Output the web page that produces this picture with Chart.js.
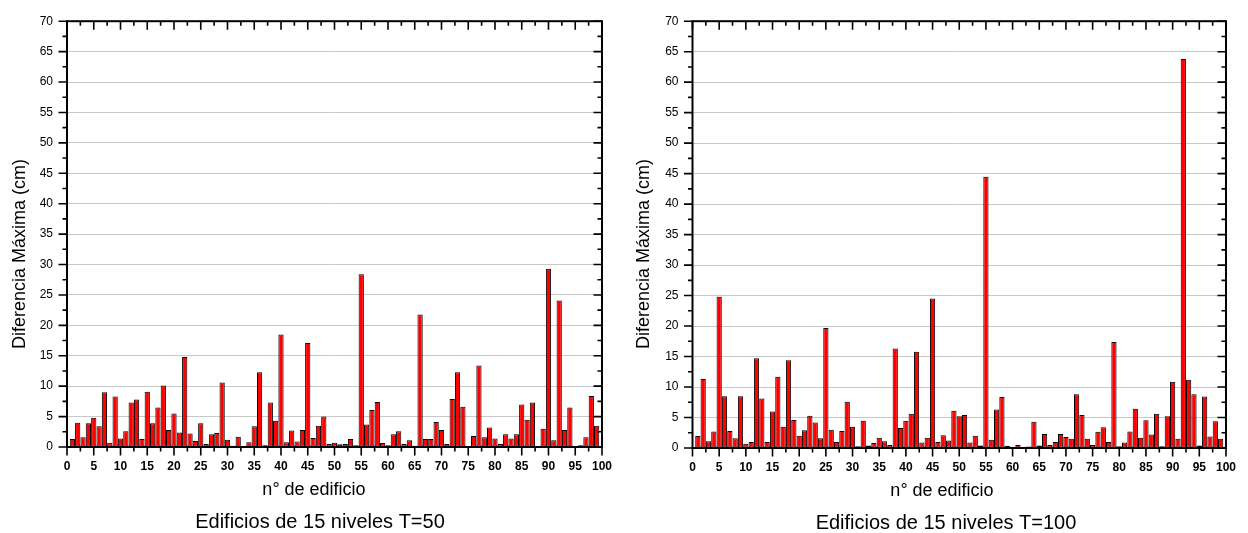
<!DOCTYPE html>
<html>
<head>
<meta charset="utf-8">
<script src="https://cdn.jsdelivr.net/npm/chart.js@4/dist/chart.umd.min.js"></script>
<style>
  html, body { margin: 0; padding: 0; background: #ffffff; }
  #wrap { position: relative; width: 1248px; height: 533px; overflow: hidden; }
  .panel { position: absolute; top: 0; width: 624px; height: 533px; }
  canvas { display: block; }
</style>
</head>
<body>
<div id="wrap">
  <div class="panel" style="left:0"><canvas id="chartT50" width="624" height="533"></canvas></div>
  <div class="panel" style="left:624px"><canvas id="chartT100" width="624" height="533"></canvas></div>
</div>
<script>
// Maximum difference (cm) per building, buildings 1..99
const diffT50 = [
  1.3, 4.0, 1.6, 3.9, 4.8, 3.4, 9.0, 0.7, 8.3, 1.4,
  2.6, 7.3, 7.8, 1.3, 9.1, 3.9, 6.5, 10.1, 2.8, 5.5,
  2.4, 14.8, 2.2, 1.0, 3.9, 0.5, 2.1, 2.3, 10.6, 1.2,
  0.2, 1.7, 0.1, 0.8, 3.4, 12.3, 0.3, 7.3, 4.3, 18.5,
  0.8, 2.7, 0.9, 2.8, 17.1, 1.5, 3.5, 5.0, 0.5, 0.7,
  0.45, 0.5, 1.3, 0.3, 28.4, 3.7, 6.1, 7.4, 0.65, 0.3,
  2.1, 2.6, 0.5, 1.1, 0.2, 21.8, 1.3, 1.3, 4.1, 2.8,
  0.5, 7.9, 12.3, 6.6, 0.0, 1.8, 13.4, 1.6, 3.2, 1.4,
  0.5, 2.1, 1.4, 2.1, 7.0, 4.5, 7.3, 0.1, 3.0, 29.3,
  1.1, 24.1, 2.8, 6.5, 0.0, 0.3, 1.6, 8.4, 3.5
];

const diffT100 = [
  1.95, 11.3, 1.1, 2.7, 24.8, 8.5, 2.8, 1.6, 8.5, 0.7,
  1.0, 14.7, 8.1, 1.0, 6.0, 11.7, 3.5, 14.4, 4.6, 2.0,
  2.9, 5.3, 4.2, 1.6, 19.7, 3.0, 1.0, 2.8, 7.6, 3.5,
  0.3, 4.45, 0.4, 0.8, 1.7, 1.1, 0.5, 16.3, 3.3, 4.45,
  5.6, 15.8, 0.9, 1.7, 24.5, 1.0, 2.1, 1.25, 6.1, 5.2,
  5.4, 0.9, 2.0, 0.4, 44.5, 1.35, 6.3, 8.35, 0.35, 0.2,
  0.5, 0.1, 0.25, 4.3, 0.4, 2.3, 0.5, 1.0, 2.3, 1.8,
  1.5, 8.8, 5.4, 1.5, 0.5, 2.65, 3.4, 1.0, 17.4, 0.3,
  0.9, 2.7, 6.45, 1.7, 4.55, 2.2, 5.6, 0.3, 5.2, 10.85,
  1.5, 63.8, 11.2, 8.8, 0.4, 8.45, 1.9, 4.4, 1.5
];

// Axis ranges and tick spacing
const xRange = [0, 100];
const xStep = 5;
const yRange = [0, 70];
const yStep = 5;

// Text
const yAxisTitle = 'Diferencia Máxima (cm)';
const xAxisTitle = 'n° de edificio';
const captionT50 = 'Edificios de 15 niveles T=50';
const captionT100 = 'Edificios de 15 niveles T=100';

const FONT = "'Liberation Sans', Arial, Helvetica, sans-serif";

// Draws the boxed frame with major/minor tick marks on all four sides
const frameTicks = {
  id: 'frameTicks',
  afterDatasetsDraw(chart) {
    const { ctx, chartArea: a, scales: { x, y } } = chart;
    const xs = x.options.ticks.stepSize, ys = y.options.ticks.stepSize;
    const isMajor = (v, s) => Math.abs(v / s - Math.round(v / s)) < 1e-6;
    ctx.save();
    ctx.strokeStyle = '#000';
    ctx.lineWidth = 1.6;
    ctx.beginPath();
    for (let v = x.min; v <= x.max + 1e-9; v += xs / 2) {
      const px = x.getPixelForValue(v);
      const len = isMajor(v, xs) ? 8.5 : 4.5;
      ctx.moveTo(px, a.bottom); ctx.lineTo(px, a.bottom + len);
      ctx.moveTo(px, a.top); ctx.lineTo(px, a.top + len);
    }
    for (let v = y.min; v <= y.max + 1e-9; v += ys / 2) {
      const py = y.getPixelForValue(v);
      const len = isMajor(v, ys) ? 8.5 : 4.5;
      ctx.moveTo(a.left, py); ctx.lineTo(a.left - len, py);
      ctx.moveTo(a.right, py); ctx.lineTo(a.right - len, py);
    }
    ctx.stroke();
    ctx.lineWidth = 2;
    ctx.strokeRect(a.left, a.top, a.right - a.left, a.bottom - a.top);
    ctx.restore();
  }
};

// Axis titles and caption under each panel
const panelText = {
  id: 'panelText',
  afterDraw(chart, args, opts) {
    const { ctx } = chart;
    ctx.save();
    ctx.fillStyle = '#000';
    ctx.textAlign = 'center';
    ctx.textBaseline = 'middle';
    ctx.font = '18px ' + FONT;
    ctx.save();
    ctx.translate(opts.yTitlePos[0], opts.yTitlePos[1]);
    ctx.rotate(-Math.PI / 2);
    ctx.fillText(opts.yTitle, 0, 0);
    ctx.restore();
    ctx.fillText(opts.xTitle, opts.xTitlePos[0], opts.xTitlePos[1]);
    ctx.font = '20px ' + FONT;
    ctx.fillText(opts.caption, opts.captionPos[0], opts.captionPos[1]);
    ctx.restore();
  }
};

function buildChart(canvasId, values, caption, box, text) {
  const points = values.map((v, i) => ({ x: i + 1, y: v }));
  return new Chart(document.getElementById(canvasId), {
    type: 'bar',
    data: {
      datasets: [{
        data: points,
        backgroundColor: '#ff0000',
        borderColor: '#000000',
        borderWidth: 1,
        borderSkipped: false,
        barPercentage: 0.98,
        categoryPercentage: 1.0
      }]
    },
    options: {
      responsive: false,
      devicePixelRatio: 1,
      animation: false,
      layout: {
        padding: { left: 0, top: box.top, right: 624 - box.right, bottom: 0 }
      },
      plugins: {
        legend: { display: false },
        tooltip: { enabled: false },
        panelText: {
          yTitle: yAxisTitle,
          xTitle: xAxisTitle,
          caption: caption,
          yTitlePos: text.yTitle,
          xTitlePos: text.xTitle,
          captionPos: text.caption
        }
      },
      scales: {
        x: {
          type: 'linear',
          min: xRange[0],
          max: xRange[1],
          offset: false,
          grid: { display: false, drawTicks: false, tickLength: 0 },
          border: { display: false },
          ticks: {
            stepSize: xStep,
            autoSkip: false,
            maxRotation: 0,
            padding: 12,
            color: '#000',
            font: { family: FONT, size: 12, weight: 'bold' }
          },
          afterFit(scale) { scale.height = 533 - box.bottom; }
        },
        y: {
          type: 'linear',
          min: yRange[0],
          max: yRange[1],
          grid: {
            drawTicks: false,
            tickLength: 0,
            lineWidth: 1,
            color: (c) => (c.tick && (c.tick.value === yRange[0] || c.tick.value === yRange[1])) ? 'rgba(0,0,0,0)' : '#c8c8c8'
          },
          border: { display: false },
          ticks: {
            stepSize: yStep,
            padding: 14,
            color: '#000',
            font: { family: FONT, size: 12 }
          },
          afterFit(scale) { scale.width = box.left; }
        }
      }
    },
    plugins: [frameTicks, panelText]
  });
}

buildChart('chartT50', diffT50, captionT50,
  { left: 67, right: 605, top: 16, bottom: 447 },
  { yTitle: [20, 254], xTitle: [314, 490], caption: [320, 522] });

buildChart('chartT100', diffT100, captionT100,
  { left: 68.5, right: 606.5, top: 18, bottom: 448 },
  { yTitle: [20, 254], xTitle: [318, 491], caption: [322, 523] });
</script>
</body>
</html>
